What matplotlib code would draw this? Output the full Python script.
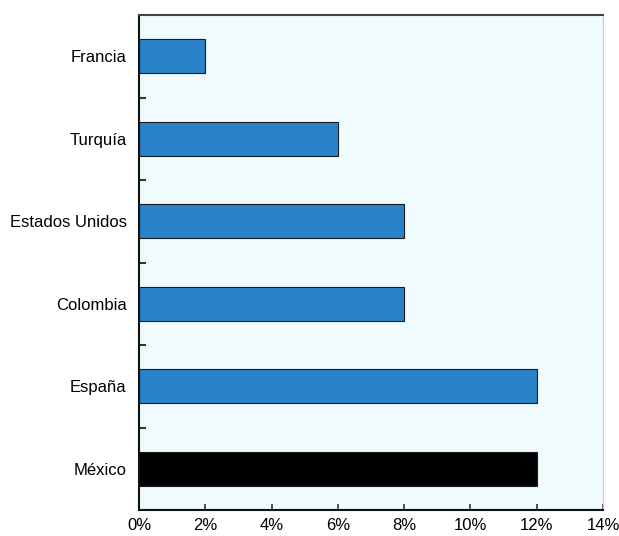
import matplotlib.pyplot as plt
import matplotlib.font_manager as fm
from matplotlib.ticker import FixedLocator, FuncFormatter

countries = ["México", "España", "Colombia", "Estados Unidos", "Turquía", "Francia"]
values = [12, 12, 8, 8, 6, 2]
bar_colors = ["#000000", "#2a82ca", "#2a82ca", "#2a82ca", "#2a82ca", "#2a82ca"]
x_ticks = [0, 2, 4, 6, 8, 10, 12, 14]

names = {f.name for f in fm.fontManager.ttflist}
family = "Liberation Sans Narrow" if "Liberation Sans Narrow" in names else "Liberation Sans"
plt.rcParams["font.family"] = [family, "DejaVu Sans"]

fig = plt.figure(figsize=(6.19, 5.36), dpi=100)
ax = fig.add_axes([0.2246, 0.0485, 0.7496, 0.9235])
ax.set_facecolor("#effbfd")

ax.barh(range(len(countries)), values, height=0.41, color=bar_colors,
        edgecolor="#1a1a1a", linewidth=0.8, zorder=2)

ax.set_xlim(0, 14)
ax.set_ylim(-0.5, len(countries) - 0.5)
ax.set_xticks(x_ticks)
ax.xaxis.set_major_formatter(FuncFormatter(lambda v, p: f"{v:.0f}%"))
ax.set_yticks(range(len(countries)))
ax.set_yticklabels(countries)
ax.yaxis.set_minor_locator(FixedLocator([i + 0.5 for i in range(len(countries) - 1)]))

ax.tick_params(axis="x", direction="in", length=4, width=1.2, labelsize=12, pad=6, color="#333333")
ax.tick_params(axis="y", which="major", length=0, labelsize=12, pad=9)
ax.tick_params(axis="y", which="minor", direction="in", length=5, width=1.5, color="#333333")

ax.spines["left"].set_color("#111111")
ax.spines["left"].set_linewidth(1.5)
ax.spines["bottom"].set_color("#111111")
ax.spines["bottom"].set_linewidth(1.5)
ax.spines["top"].set_color("#444444")
ax.spines["top"].set_linewidth(1.5)
ax.spines["right"].set_color("#c8d0d2")
ax.spines["right"].set_linewidth(1.0)

fig.savefig("out.png", dpi=100, facecolor="white")
